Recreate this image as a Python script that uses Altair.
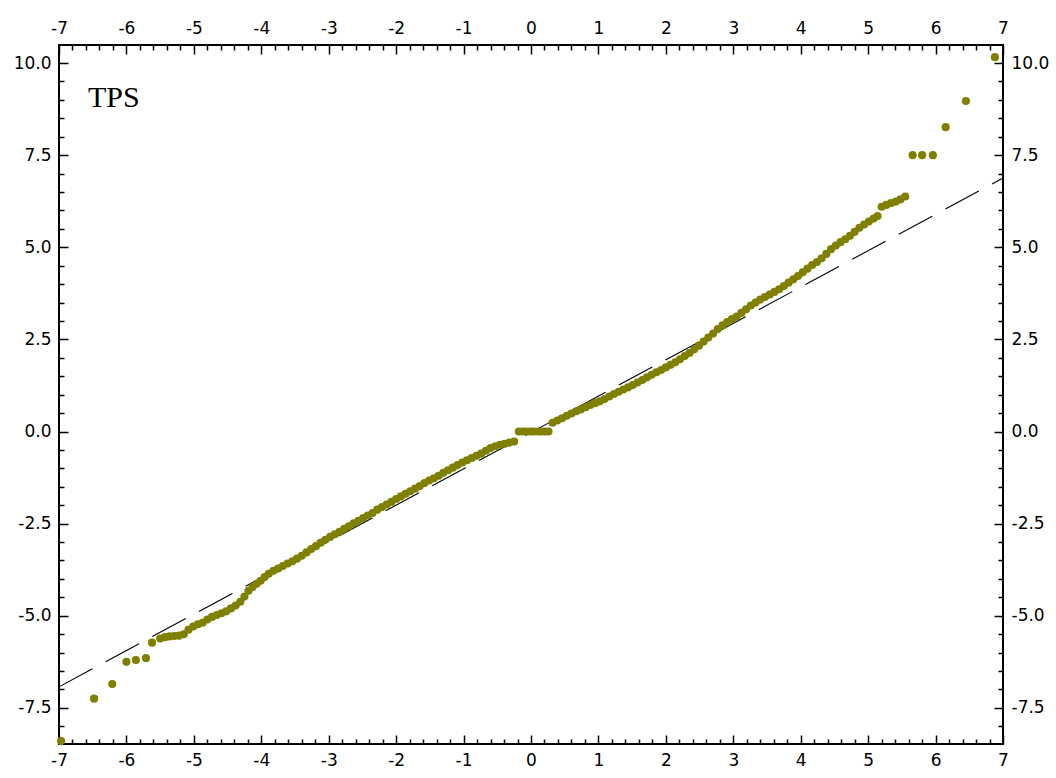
import altair as alt
import pandas as pd

# Normal Q-Q plot of TPS: theoretical quantiles vs. sample quantiles
q_theor = [
    -6.97, -6.48, -6.21, -6.00, -5.86, -5.71, -5.62,
    -5.50, -5.43, -5.36, -5.29, -5.22, -5.15, -5.08, -5.01, -4.94, -4.87,
    -4.80, -4.73, -4.66, -4.59, -4.52, -4.45, -4.38, -4.31, -4.25, -4.19,
    -4.13, -4.07, -4.01, -3.95, -3.89, -3.82, -3.75, -3.68, -3.61, -3.54,
    -3.47, -3.40, -3.33, -3.26, -3.19, -3.12, -3.05,
    -2.98, -2.91, -2.84, -2.77, -2.70, -2.63, -2.56, -2.49, -2.42, -2.35,
    -2.28, -2.21, -2.14, -2.07, -2.00, -1.93, -1.86, -1.79, -1.72, -1.65,
    -1.58, -1.51, -1.44, -1.37, -1.30, -1.23, -1.16, -1.09, -1.02, -0.95,
    -0.88, -0.81, -0.74, -0.67, -0.60, -0.53, -0.46, -0.39, -0.32, -0.25,
    -0.18, -0.12, -0.07, -0.01, 0.04, 0.10, 0.15, 0.21, 0.26,
    0.32, 0.39, 0.46, 0.53, 0.60, 0.67, 0.74, 0.81, 0.88, 0.95,
    1.02, 1.09, 1.16, 1.23, 1.30, 1.37, 1.44, 1.51, 1.58, 1.65,
    1.72, 1.79, 1.86, 1.93, 2.00, 2.07, 2.14, 2.21, 2.28, 2.35,
    2.42, 2.49, 2.56, 2.63, 2.70, 2.77, 2.84, 2.91, 2.98, 3.05,
    3.12, 3.19, 3.26, 3.33, 3.40, 3.47, 3.54, 3.61, 3.68, 3.75,
    3.82, 3.89, 3.96, 4.03, 4.10, 4.17, 4.24, 4.31, 4.38, 4.45,
    4.52, 4.59, 4.66, 4.73, 4.80, 4.87, 4.94, 5.01, 5.08, 5.14,
    5.20, 5.27, 5.34, 5.41, 5.48, 5.55,
    5.66, 5.80, 5.96, 6.15, 6.45, 6.88,
]
q_sample = [
    -8.40, -7.25, -6.85, -6.25, -6.20, -6.15, -5.73,
    -5.62, -5.58, -5.56, -5.55, -5.54, -5.50, -5.38, -5.29, -5.23, -5.19,
    -5.10, -5.03, -4.98, -4.93, -4.88, -4.80, -4.72, -4.62, -4.48, -4.32,
    -4.22, -4.13, -4.05, -3.95, -3.86, -3.78, -3.72, -3.65, -3.58, -3.52,
    -3.45, -3.37, -3.28, -3.19, -3.11, -3.02, -2.94,
    -2.86, -2.79, -2.72, -2.64, -2.57, -2.49, -2.42, -2.35, -2.28, -2.21,
    -2.12, -2.05, -1.98, -1.91, -1.83, -1.76, -1.69, -1.62, -1.55, -1.48,
    -1.40, -1.33, -1.27, -1.20, -1.12, -1.05, -0.98, -0.91, -0.84, -0.78,
    -0.72, -0.66, -0.60, -0.52, -0.45, -0.40, -0.36, -0.33, -0.30, -0.27,
    0.00, 0.00, 0.00, 0.00, 0.00, 0.00, 0.00, 0.00, 0.00,
    0.24, 0.30, 0.36, 0.43, 0.49, 0.55, 0.60, 0.66, 0.72, 0.77,
    0.82, 0.88, 0.95, 1.02, 1.08, 1.14, 1.20, 1.26, 1.33, 1.40,
    1.47, 1.54, 1.61, 1.67, 1.74, 1.81, 1.88, 1.96, 2.05, 2.13,
    2.23, 2.33, 2.44, 2.55, 2.66, 2.78, 2.88, 2.97, 3.05, 3.12,
    3.22, 3.32, 3.42, 3.50, 3.58, 3.65, 3.72, 3.79, 3.86, 3.95,
    4.04, 4.13, 4.22, 4.32, 4.42, 4.52, 4.60, 4.70, 4.82, 4.95,
    5.05, 5.14, 5.22, 5.31, 5.42, 5.53, 5.62, 5.70, 5.78, 5.85,
    6.10, 6.15, 6.20, 6.24, 6.30, 6.38,
    7.50, 7.50, 7.50, 8.26, 8.97, 10.16,
]

# Reference line endpoints
ref_x = [-7.0, 7.0]
ref_y = [-6.93, 6.88]

# Tick positions
x_major = [-7, -6, -5, -4, -3, -2, -1, 0, 1, 2, 3, 4, 5, 6, 7]
x_minor = [round(-7 + 0.2 * i, 1) for i in range(71) if i % 5 != 0]
y_major = [-7.5, -5.0, -2.5, 0.0, 2.5, 5.0, 7.5, 10.0]
y_minor = [v / 2 for v in range(-17, 21) if v % 5 != 0]

OLIVE = "#808000"
FONT = "DejaVu Sans"

xs = alt.Scale(domain=[-7, 7], nice=False, zero=False)
ys = alt.Scale(domain=[-8.48, 10.49], nice=False, zero=False)


def label_expr(fmt):
    # plain hyphen for negative numbers
    return (
        f"datum.value < 0 ? '-' + format(-datum.value, '{fmt}') "
        f": format(datum.value, '{fmt}')"
    )


def major_axis(orient, values, fmt):
    # ticks drawn inward: axis pulled inside by the tick length
    return alt.Axis(
        orient=orient, values=values, labelExpr=label_expr(fmt), title=None,
        domain=False, grid=False, tickSize=9, offset=-9, tickWidth=1.5,
        tickColor="black", labelPadding=8, labelFont=FONT, labelFontSize=17,
        labelColor="black", labelFlush=False, labelOverlap=False,
    )


def minor_axis(orient, values):
    return alt.Axis(
        orient=orient, values=values, title=None, labels=False,
        domain=False, grid=False, tickSize=5, offset=-5, tickWidth=1.5,
        tickColor="black",
    )


pts_df = pd.DataFrame({"q": q_theor, "s": q_sample})
ref_df = pd.DataFrame({"rx": ref_x, "ry": ref_y})

points = alt.Chart(pts_df).mark_circle(color=OLIVE, size=66, opacity=1).encode(
    x=alt.X("q:Q", scale=xs, axis=major_axis("bottom", x_major, "d")),
    y=alt.Y("s:Q", scale=ys, axis=major_axis("left", y_major, ".1f")),
)

ref_line = alt.Chart(ref_df).mark_line(
    color="black", strokeWidth=1.1, strokeDash=[38, 15]
).encode(
    x=alt.X("rx:Q", scale=xs, axis=major_axis("top", x_major, "d")),
    y=alt.Y("ry:Q", scale=ys, axis=major_axis("right", y_major, ".1f")),
)

minor_bl = alt.Chart(ref_df).mark_point(opacity=0).encode(
    x=alt.X("rx:Q", scale=xs, axis=minor_axis("bottom", x_minor)),
    y=alt.Y("ry:Q", scale=ys, axis=minor_axis("left", y_minor)),
)

minor_tr = alt.Chart(ref_df).mark_point(opacity=0).encode(
    x=alt.X("rx:Q", scale=xs, axis=minor_axis("top", x_minor)),
    y=alt.Y("ry:Q", scale=ys, axis=minor_axis("right", y_minor)),
)

label = alt.Chart(pd.DataFrame({"t": ["TPS"]})).mark_text(
    font="Liberation Serif", fontSize=30, align="left", baseline="alphabetic",
    color="black",
).encode(text="t:N", x=alt.value(29), y=alt.value(62))

chart = (
    alt.layer(minor_bl, minor_tr, ref_line, points, label)
    .resolve_axis(x="independent", y="independent")
    .properties(
        width=944, height=699,
        autosize=alt.AutoSizeParams(type="none"),
        padding={"left": 59, "top": 45, "right": 53, "bottom": 34},
        background="white",
    )
    .configure_view(stroke="black", strokeWidth=2)
)

chart.save("out.html", embed_options={"renderer": "svg", "actions": False})
